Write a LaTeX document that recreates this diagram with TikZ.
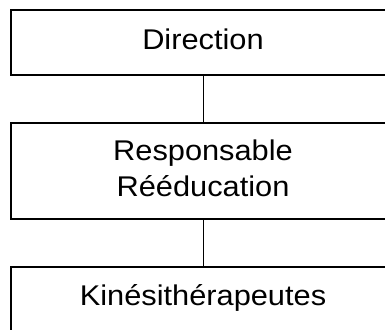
\documentclass[tikz,border=0pt]{standalone}
\usepackage{fontspec}
\setmainfont{Liberation Sans}
\begin{document}
\begin{tikzpicture}[x=1pt,y=-1pt,
  box/.style={draw=black, line width=2pt, fill=white, minimum width=384pt, inner sep=0pt, outer sep=0pt, anchor=north},
  lbl/.style={font=\fontsize{28.5}{36.5}\selectfont, inner sep=0pt, anchor=base, xscale=1.08, transform shape},
  conn/.style={line width=1pt}]
\useasboundingbox (0,0) rectangle (385,329);
\clip (0,0) rectangle (385,329);
\node[box, minimum height=64.5pt] (dir) at (203,10) {};
\node[box, minimum height=96.5pt] (resp) at (203,122.5) {};
\node[box, minimum height=70pt] (kine) at (203,267) {};
\node[lbl] (tdir) at (203,49.5) {Direction};
\node[lbl] (tresp1) at (203,160) {Responsable};
\node[lbl] (tresp2) at (203,196.5) {Rééducation};
\node[lbl] (tkine) at (203,305) {Kinésithérapeutes};
\draw[conn] (dir.south) -- (resp.north);
\draw[conn] (resp.south) -- (kine.north);
\end{tikzpicture}
\end{document}
